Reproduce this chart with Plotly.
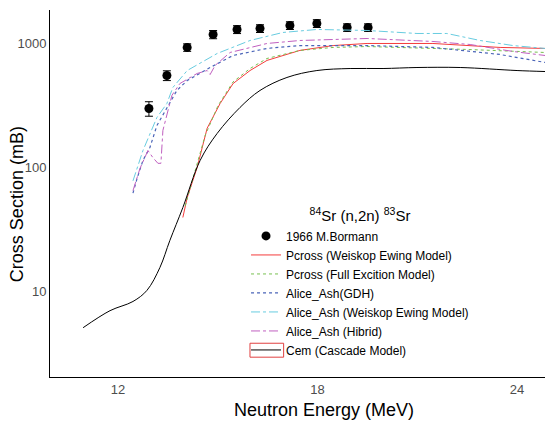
import plotly.graph_objects as go

# Experimental data (1966 M.Bormann)
exp_e = [12.93, 13.47, 14.08, 14.86, 15.58, 16.27, 17.17, 17.98, 18.89, 19.52]
exp_xs = [299, 552, 929, 1182, 1297, 1321, 1397, 1450, 1346, 1346]
exp_err = [40, 50, 65, 90, 95, 95, 100, 105, 95, 95]

# Pcross (Weiskop Ewing Model)
pw_e = [13.95, 14.08, 14.38, 14.68, 15.07, 15.46, 15.97, 16.48, 17.47, 18.47, 19.49, 21.47, 23.49, 24.84]
pw_xs = [39.5, 57, 100, 207, 328, 475, 605, 730, 879, 962, 1000, 1000, 929, 912]

# Pcross (Full Excition Model)
pf_e = [14.02, 14.32, 14.62, 15.01, 15.46, 15.97, 16.48, 17.47, 18.47, 19.49, 20.48, 22.5, 24.84]
pf_xs = [49, 95, 181, 316, 490, 628, 757, 879, 929, 945, 929, 895, 846]

# Alice_Ash (GDH)
ag_e = [12.45, 12.57, 12.75, 12.96, 13.17, 13.56, 13.77, 14.08, 14.77, 15.46, 16.48, 17.47, 19.49, 21.47, 22.38, 23.49, 24.84]
ag_xs = [62, 81, 114, 145, 218, 328, 418, 503, 640, 800, 912, 962, 962, 929, 879, 815, 703]

# Alice_Ash (Weiskop Ewing Model)
aw_e = [12.45, 12.75, 13.17, 13.47, 13.65, 14.08, 14.98, 15.97, 16.96, 17.98, 19.49, 20.99, 21.89, 22.89, 23.88, 24.84]
aw_xs = [78, 137, 253, 328, 442, 605, 830, 1057, 1227, 1297, 1273, 1204, 1204, 1057, 962, 912]

# Alice_Ash (Hibrid)
ah_e = [12.45, 12.66, 12.90, 13.05, 13.20, 13.29, 13.35, 13.47, 13.62, 13.86, 14.38, 14.68, 14.77, 14.92, 15.37, 16.48, 17.47, 19.49, 21.47, 22.59, 23.88, 24.84]
ah_xs = [65, 98, 137, 120, 108, 108, 199, 272, 381, 475, 573, 605, 562, 665, 846, 1000, 1057, 1097, 1038, 981, 862, 800]

# Cem (Cascade Model)
cem_e = [10.95, 11.76, 12.45, 12.87, 13.26, 13.56, 13.95, 14.47, 14.98, 15.67, 16.27, 17.08, 17.98, 18.98, 19.97, 20.99, 22.29, 24.0, 24.84]
cem_xs = [5.1, 7.0, 8.3, 10.2, 15.6, 25.8, 47.5, 114, 188, 305, 418, 532, 605, 628, 628, 640, 640, 605, 594]

fig = go.Figure()
fig.add_trace(go.Scatter(x=exp_e, y=exp_xs, mode="markers", name="1966 M.Bormann",
                         marker=dict(color="black", size=9),
                         error_y=dict(type="data", array=exp_err, color="black", thickness=1, width=4)))
fig.add_trace(go.Scatter(x=pw_e, y=pw_xs, mode="lines", name="Pcross (Weiskop Ewing Model)",
                         line=dict(color="#f43c3c", width=1)))
fig.add_trace(go.Scatter(x=pf_e, y=pf_xs, mode="lines", name="Pcross (Full Excition Model)",
                         line=dict(color="#78c050", width=1, dash="3px,3px")))
fig.add_trace(go.Scatter(x=ag_e, y=ag_xs, mode="lines", name="Alice_Ash(GDH)",
                         line=dict(color="#4a64b8", width=1.2, dash="dot")))
fig.add_trace(go.Scatter(x=aw_e, y=aw_xs, mode="lines", name="Alice_Ash (Weiskop Ewing Model)",
                         line=dict(color="#68cce0", width=1, dash="dashdot")))
fig.add_trace(go.Scatter(x=ah_e, y=ah_xs, mode="lines", name="Alice_Ash (Hibrid)",
                         line=dict(color="#c060c0", width=1, dash="dashdot")))
fig.add_trace(go.Scatter(x=cem_e, y=cem_xs, mode="lines", name="Cem (Cascade Model)",
                         line=dict(color="black", width=1), line_shape="spline"))

fig.update_layout(
    width=545, height=421,
    margin=dict(l=50, r=0, t=10, b=44),
    plot_bgcolor="white", paper_bgcolor="white",
    font=dict(family="Arial, Liberation Sans, sans-serif", color="black"),
    xaxis=dict(range=[9.955, 24.84], tickvals=[12, 18, 24], showgrid=False, zeroline=False,
               showline=True, linecolor="black", linewidth=1, ticks="",
               tickfont=dict(size=13, color="#4d4d4d")),
    yaxis=dict(type="log", range=[0.31, 3.27], tickvals=[10, 100, 1000], ticktext=["10", "100", "1000"],
               showgrid=False, zeroline=False, showline=True, linecolor="black", linewidth=1, ticks="",
               tickfont=dict(size=13, color="#4d4d4d")),
    legend=dict(x=0.396, y=0.477, xanchor="left", yanchor="top",
                bgcolor="rgba(0,0,0,0)", font=dict(size=12), tracegroupgap=0,
                title=dict(text="<sup>84</sup>Sr (n,2n) <sup>83</sup>Sr", side="top center",
                           font=dict(size=15))),
    shapes=[dict(type="rect", xref="paper", yref="paper",
                 x0=0.404, x1=0.472, y0=0.054, y1=0.092,
                 line=dict(color="#e04040", width=1), fillcolor="rgba(0,0,0,0)")],
    annotations=[
        dict(text="Neutron Energy (MeV)", xref="paper", yref="paper", x=0.5535, y=-0.09,
             xanchor="center", yanchor="middle", showarrow=False, font=dict(size=18)),
        dict(text="Cross Section (mB)", xref="paper", yref="paper", x=0, y=0.471,
             xshift=-33, xanchor="center", yanchor="middle", textangle=-90,
             showarrow=False, font=dict(size=18)),
    ],
)

fig.write_html("out.html")
